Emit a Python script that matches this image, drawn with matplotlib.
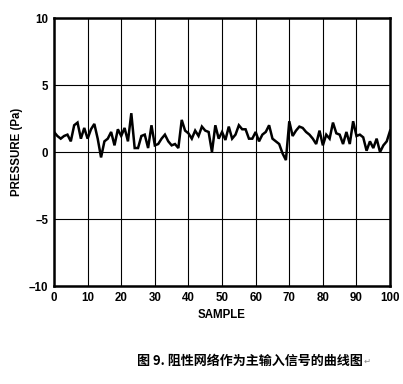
import matplotlib
matplotlib.use("Agg")
import matplotlib.pyplot as plt
from matplotlib.ticker import FixedLocator

samples = list(range(0, 101))
pressure = [1.5, 1.2, 1.0, 1.2, 1.3, 0.8, 2.0, 2.2, 1.0, 1.8,
            1.0, 1.7, 2.1, 1.0, -0.4, 0.8, 1.0, 1.5, 0.5, 1.7,
            1.2, 1.8, 0.8, 2.9, 0.3, 0.3, 1.2, 1.3, 0.3, 2.0,
            0.5, 0.6, 1.0, 1.3, 0.8, 0.5, 0.6, 0.3, 2.4, 1.6,
            1.4, 1.0, 1.6, 1.2, 1.9, 1.6, 1.5, 0.0, 2.0, 1.0,
            1.5, 0.9, 1.9, 1.0, 1.3, 2.0, 1.7, 1.7, 1.0, 1.0,
            1.5, 0.8, 1.3, 1.5, 2.0, 1.0, 0.8, 0.6, -0.1, -0.6,
            2.3, 1.2, 1.6, 1.9, 1.8, 1.5, 1.3, 1.0, 0.6, 1.6,
            0.5, 1.3, 1.0, 2.2, 1.4, 1.3, 0.6, 1.5, 0.6, 2.3,
            1.2, 1.3, 1.1, 0.1, 0.8, 0.3, 1.0, 0.0, 0.5, 0.8, 1.6]

xticks = [0, 10, 20, 30, 40, 50, 60, 70, 80, 90, 100]
yticks = [-10, -5, 0, 5, 10]
ytick_labels = ["\u201310", "\u20135", "0", "5", "10"]
caption = "图 9. 阻性网络作为主输入信号的曲线图"

plt.rcParams['font.family'] = ['Liberation Sans', 'DejaVu Sans']

fig = plt.figure(figsize=(4.03, 3.84), dpi=100)
ax = fig.add_axes([0.134, 0.255, 0.834, 0.698])
ax.plot(samples, pressure, color='black', linewidth=1.8, solid_joinstyle='miter')
ax.set_xlim(0, 100)
ax.set_ylim(-10, 10)
ax.xaxis.set_major_locator(FixedLocator(xticks))
ax.yaxis.set_major_locator(FixedLocator(yticks))
ax.set_xticklabels([str(t) for t in xticks], fontsize=8.3, fontweight='bold')
ax.set_yticklabels(ytick_labels, fontsize=8.3, fontweight='bold')
ax.tick_params(length=0, pad=4)
ax.grid(True, color='black', linewidth=0.8)
for s in ax.spines.values():
    s.set_linewidth(1.8)
ax.set_xlabel("SAMPLE", fontsize=8.3, fontweight='bold', labelpad=4)
ax.set_ylabel("PRESSURE (Pa)", fontsize=8.3, fontweight='bold', labelpad=4)

fig.text(0.34, 0.06, caption, fontsize=9.4, fontweight='bold',
         family=['Noto Sans CJK SC', 'DejaVu Sans'], ha='left', va='center')
fig.text(0.902, 0.06, "\u21b5", fontsize=6, color='#888888',
         family=['DejaVu Sans'], ha='left', va='center')

fig.savefig("out.png", dpi=100)
